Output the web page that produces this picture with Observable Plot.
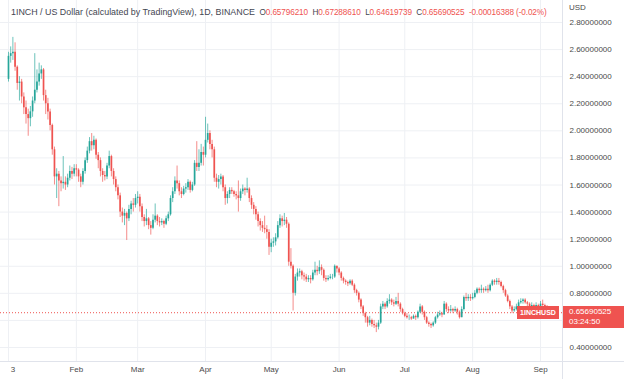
<!DOCTYPE html>
<html>
<head>
<meta charset="utf-8">
<script src="https://cdn.jsdelivr.net/npm/d3@7"></script>
<script src="https://cdn.jsdelivr.net/npm/@observablehq/plot@0.6"></script>
<style>
  html, body { margin: 0; padding: 0; background: #ffffff; }
  #wrap { position: relative; width: 624px; height: 379px; overflow: hidden; background: #fff;
          font-family: "Liberation Sans", Arial, sans-serif; }
  #wrap svg { position: absolute; left: 0; top: 0; }
  .hdr { position: absolute; left: 11px; top: 5px; line-height: 10px; color: #434651; white-space: nowrap; }
  .hdr .t { font-size: 8.9px; }
  .hdr .g { font-size: 8.2px; letter-spacing: -0.1px; margin-left: 4.5px; }
  .hdr .v { color: #ef5350; }
  .usd { position: absolute; left: 569px; top: 3px; font-size: 8px; color: #4a4a4a; }
  .vsep { position: absolute; left: 562px; top: 0; width: 1px; height: 379px; background: #e0e3eb; }
  .hsep { position: absolute; left: 0; top: 361px; width: 624px; height: 1px; background: #e0e3eb; }
  .tag { position: absolute; background: #ef5350; color: #fff; white-space: nowrap; }
</style>
</head>
<body>
<div id="wrap"></div>
<script>
// ---- data (1INCH / USD, daily, from 2021-01-01) ----
const startDate = "2021-01-01";
const firstOpen = 2.38;
const lastOpen = 0.65796210;
const closes = [
  2.55,2.57,2.58,2.47,2.35,2.36,2.25,2.17,2.12,2.09,2.14,2.22,2.30,2.36,2.42,2.45,2.26,2.20,2.14,2.04,1.86,1.66,1.68,1.63,1.61,1.62,1.60,1.65,1.70,1.68,1.72,
  1.71,1.66,1.62,1.70,1.78,1.85,1.92,1.89,1.93,1.82,1.78,1.70,1.67,1.66,1.74,1.81,1.70,1.64,1.58,1.52,1.40,1.37,1.39,1.35,1.42,1.46,1.45,1.50,
  1.51,1.44,1.36,1.33,1.35,1.30,1.28,1.34,1.37,1.33,1.32,1.33,1.31,1.35,1.38,1.50,1.55,1.63,1.61,1.55,1.53,1.57,1.58,1.62,1.56,1.60,1.76,1.73,1.76,1.84,1.82,
  1.93,1.98,1.90,1.86,1.65,1.62,1.64,1.66,1.58,1.50,1.53,1.56,1.55,1.53,1.52,1.50,1.55,1.57,1.56,1.57,1.50,1.45,1.42,1.38,1.33,1.30,1.28,1.27,1.25,1.14,
  1.17,1.18,1.21,1.30,1.35,1.33,1.34,1.31,1.03,1.00,0.80,0.92,0.95,0.96,0.93,0.92,0.90,0.91,0.90,0.95,0.97,0.96,0.99,0.97,0.91,0.90,0.91,0.92,0.92,1.00,0.98,
  0.95,0.91,0.89,0.88,0.87,0.89,0.86,0.82,0.80,0.75,0.70,0.65,0.62,0.58,0.60,0.57,0.56,0.55,0.58,0.70,0.72,0.70,0.74,0.75,0.73,0.72,0.74,0.72,0.68,0.65,
  0.63,0.62,0.62,0.61,0.63,0.62,0.66,0.70,0.66,0.62,0.58,0.57,0.56,0.58,0.62,0.64,0.65,0.64,0.72,0.68,0.67,0.68,0.67,0.68,0.66,0.62,0.68,0.77,0.76,0.77,0.76,
  0.77,0.80,0.83,0.82,0.83,0.82,0.83,0.82,0.86,0.89,0.88,0.89,0.88,0.85,0.82,0.78,0.74,0.70,0.67,0.68,0.70,0.73,0.74,0.75,0.73,0.72,0.70,0.71,0.70,0.71,0.70,
  0.72,0.71,0.70,0.69,0.65706913,0.65690525
];
const highs = [
  2.58,2.62,2.69,2.65,2.48,2.40,2.38,2.28,2.22,2.16,2.18,2.25,2.57,2.45,2.50,2.48,2.46,2.30,2.24,2.16,2.05,1.88,1.72,1.70,1.66,1.81,1.66,1.68,1.74,1.73,1.75,
  1.75,1.72,1.68,1.72,1.80,1.88,1.95,1.98,1.96,1.94,1.84,1.80,1.72,1.70,1.76,1.85,1.82,1.72,1.66,1.60,1.54,1.43,1.42,1.40,1.45,1.48,1.50,1.53,
  1.55,1.53,1.46,1.38,1.42,1.36,1.33,1.38,1.46,1.38,1.36,1.35,1.34,1.37,1.40,1.52,1.58,1.66,1.74,1.63,1.58,1.59,1.61,1.64,1.63,1.62,1.78,1.92,1.86,1.90,1.88,
  2.10,2.05,2.00,1.93,1.88,1.68,1.67,1.68,1.67,1.60,1.55,1.58,1.58,1.56,1.55,1.63,1.57,1.60,1.58,1.65,1.58,1.52,1.47,1.44,1.40,1.35,1.33,1.37,1.30,1.27,
  1.20,1.21,1.24,1.33,1.38,1.37,1.39,1.36,1.32,1.13,1.01,0.94,0.98,0.98,0.97,0.95,0.94,0.93,0.93,0.97,1.03,1.00,1.04,1.01,0.98,0.93,0.93,0.94,0.94,1.01,1.00,
  0.99,0.96,0.92,0.90,0.89,0.90,0.90,0.87,0.83,0.81,0.76,0.71,0.66,0.63,0.63,0.61,0.60,0.58,0.60,0.72,0.74,0.73,0.76,0.79,0.76,0.75,0.77,0.80,0.73,0.69,
  0.66,0.65,0.64,0.63,0.64,0.64,0.67,0.72,0.71,0.67,0.63,0.59,0.58,0.59,0.63,0.66,0.67,0.66,0.74,0.73,0.70,0.71,0.69,0.70,0.69,0.67,0.70,0.78,0.80,0.79,0.79,
  0.80,0.82,0.84,0.84,0.86,0.84,0.85,0.86,0.87,0.90,0.90,0.91,0.91,0.89,0.86,0.83,0.79,0.75,0.71,0.70,0.72,0.75,0.76,0.76,0.76,0.74,0.73,0.73,0.72,0.73,0.72,
  0.74,0.75,0.72,0.71,0.70,0.67288610
];
const lows = [
  2.36,2.50,2.52,2.44,2.30,2.22,2.20,2.12,2.05,1.96,2.03,2.10,2.20,2.28,2.33,2.38,2.22,2.12,2.08,2.00,1.82,1.60,1.50,1.44,1.55,1.57,1.56,1.58,1.63,1.64,1.66,
  1.66,1.62,1.58,1.60,1.68,1.76,1.83,1.85,1.86,1.79,1.72,1.66,1.62,1.63,1.64,1.72,1.66,1.60,1.55,1.49,1.36,1.32,1.30,1.19,1.33,1.38,1.40,1.43,
  1.46,1.40,1.33,1.29,1.30,1.27,1.23,1.27,1.32,1.30,1.29,1.30,1.28,1.30,1.33,1.37,1.47,1.53,1.57,1.52,1.50,1.52,1.54,1.56,1.54,1.55,1.59,1.70,1.70,1.74,1.74,
  1.80,1.91,1.86,1.80,1.62,1.58,1.57,1.60,1.55,1.45,1.46,1.50,1.53,1.51,1.49,1.40,1.48,1.53,1.52,1.54,1.47,1.42,1.38,1.34,1.29,1.26,1.25,1.24,1.20,1.08,
  1.10,1.14,1.15,1.20,1.28,1.29,1.30,1.28,1.00,0.98,0.67,0.78,0.89,0.92,0.90,0.89,0.88,0.88,0.87,0.89,0.93,0.93,0.94,0.93,0.89,0.88,0.89,0.90,0.90,0.91,0.95,
  0.93,0.89,0.87,0.86,0.85,0.86,0.85,0.80,0.78,0.73,0.68,0.63,0.58,0.55,0.56,0.55,0.54,0.51,0.53,0.57,0.68,0.68,0.69,0.72,0.71,0.70,0.71,0.70,0.66,0.64,
  0.62,0.61,0.60,0.60,0.61,0.60,0.61,0.65,0.64,0.60,0.57,0.55,0.54,0.55,0.57,0.61,0.63,0.62,0.64,0.66,0.65,0.66,0.65,0.66,0.64,0.61,0.62,0.67,0.74,0.74,0.74,
  0.75,0.76,0.79,0.80,0.80,0.80,0.81,0.80,0.81,0.85,0.86,0.86,0.86,0.84,0.80,0.77,0.73,0.68,0.65,0.66,0.67,0.69,0.72,0.72,0.72,0.70,0.69,0.69,0.68,0.69,0.68,
  0.69,0.70,0.68,0.67,0.61,0.64619739
];
const yTicks = [0.4,0.6,0.8,1.0,1.2,1.4,1.6,1.8,2.0,2.2,2.4,2.6,2.8];
const gridDates = ["2021-01-01","2021-02-01","2021-03-01","2021-04-01","2021-05-01","2021-06-01","2021-07-01","2021-08-01","2021-09-01"];
const labelDates = ["2021-01-03","2021-02-01","2021-03-01","2021-04-01","2021-05-01","2021-06-01","2021-07-01","2021-08-01","2021-09-01"];
const xLabels = ["3","Feb","Mar","Apr","May","Jun","Jul","Aug","Sep"];
const headerTitle = "1INCH / US Dollar (calculated by TradingView), 1D, BINANCE";
const symbol = "1INCHUSD";
const countdown = "03:24:50";

// ---- build ----
const up = "#26a69a", down = "#ef5350";
const t0 = new Date(startDate + "T00:00:00Z");
const opens = closes.map((c, i) => i === 0 ? firstOpen : closes[i - 1]);
opens[opens.length - 1] = lastOpen;
const data = closes.map((c, i) => ({
  date: d3.utcDay.offset(t0, i), open: opens[i], high: highs[i], low: lows[i], close: c
}));
const last = data[data.length - 1];
const prevClose = data[data.length - 2].close;
const change = last.close - prevClose;
const changePct = change / prevClose * 100;
const gd = gridDates.map(d => new Date(d + "T00:00:00Z"));
const ld = labelDates.map(d => new Date(d + "T00:00:00Z"));
const labelMap = new Map(ld.map((d, i) => [+d, xLabels[i]]));
const colorOf = d => d.close >= d.open ? up : down;

const yDomain = [0.4, 2.8], yRange = [347, 22];
const yOf = v => yRange[0] + (v - yDomain[0]) / (yDomain[1] - yDomain[0]) * (yRange[1] - yRange[0]);
// the axis labels hidden under the current-price tag are not shown (as in TradingView)
const yLabelTicks = yTicks.filter(t => Math.abs(yOf(t) - yOf(last.close)) > 12);

const chart = Plot.plot({
  width: 624, height: 379,
  marginLeft: 0, marginRight: 61, marginTop: 0, marginBottom: 18,
  x: { type: "utc", domain: [gd[0], gd[gd.length - 1]], range: [8, 540], axis: null },
  y: { domain: yDomain, range: yRange, axis: null },
  color: { type: "identity" },
  style: { fontFamily: "Liberation Sans, Arial, sans-serif", fontSize: "8px", color: "#4a4a4a", background: "transparent", overflow: "visible" },
  marks: [
    Plot.gridY(yTicks, { stroke: "#eef0f4", strokeOpacity: 1 }),
    Plot.gridX(gd, { stroke: "#eef0f4", strokeOpacity: 1 }),
    Plot.ruleY([last.close], { stroke: "#ef5350", strokeWidth: 1, strokeDasharray: "1,2" }),
    Plot.ruleX(data, { x: "date", y1: "low", y2: "high", stroke: colorOf, strokeWidth: 0.9, strokeOpacity: 0.75 }),
    Plot.ruleX(data, { x: "date", y1: "open", y2: "close", stroke: colorOf, strokeWidth: 1.7 }),
    Plot.axisY(yLabelTicks, { anchor: "right", tickSize: 0, tickPadding: 6, tickFormat: d => d.toFixed(8), fill: "#4a4a4a" }),
    Plot.axisX(ld, { anchor: "bottom", tickSize: 0, tickPadding: 5, tickFormat: d => labelMap.get(+d), fill: "#4a4a4a" })
  ]
});

const wrap = document.getElementById("wrap");
wrap.appendChild(chart);

const f8 = v => v.toFixed(8);
const hdr = document.createElement("div");
hdr.className = "hdr";
hdr.innerHTML =
  `<span class="t">${headerTitle}</span>` +
  `<span class="g">O<span class="v">${f8(last.open)}</span></span>` +
  `<span class="g">H<span class="v">${f8(last.high)}</span></span>` +
  `<span class="g">L<span class="v">${f8(last.low)}</span></span>` +
  `<span class="g">C<span class="v">${f8(last.close)}</span></span>` +
  `<span class="g"><span class="v">${change.toFixed(8)} (${changePct.toFixed(2)}%)</span></span>`;
wrap.appendChild(hdr);

const usd = document.createElement("div");
usd.className = "usd"; usd.textContent = "USD";
wrap.appendChild(usd);

const vsep = document.createElement("div"); vsep.className = "vsep"; wrap.appendChild(vsep);
const hsep = document.createElement("div"); hsep.className = "hsep"; wrap.appendChild(hsep);

const yPix = chart.scale("y").apply(last.close);
const tagL = document.createElement("div");
tagL.className = "tag";
tagL.style.cssText = `left:517px;top:${yPix - 6}px;width:42px;height:13px;text-align:center;line-height:13px;font-size:7px;font-weight:bold;`;
tagL.textContent = symbol;
wrap.appendChild(tagL);

const tagR = document.createElement("div");
tagR.className = "tag";
tagR.style.cssText = `left:563px;top:${yPix - 6}px;width:61px;height:22px;padding-left:6px;box-sizing:border-box;font-size:8px;line-height:10px;padding-top:1px;`;
tagR.innerHTML = `${f8(last.close)}<br>${countdown}`;
wrap.appendChild(tagR);
</script>
</body>
</html>
